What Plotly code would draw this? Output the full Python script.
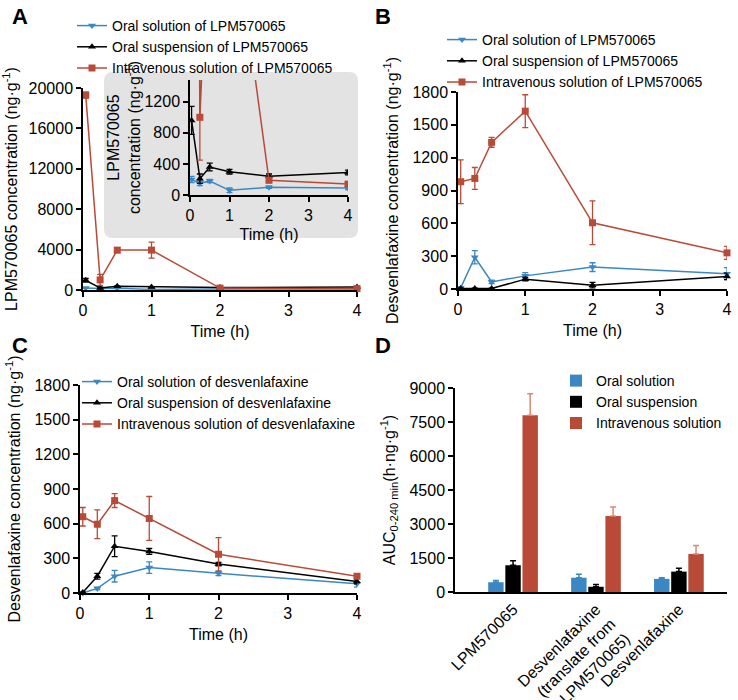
import plotly.graph_objects as go

W, H = 738, 700

BLUE = "#3b87c4"
BLACK = "#000000"
RED = "#b94a38"
FONT = "Arial, Liberation Sans, sans-serif"

# sampling times (h)
time_h = [0.04, 0.25, 0.5, 1, 2, 4]

# A: LPM570065 concentration
a_sol = [200, 150, 180, 60, 100, 90]
a_sol_err = [40, 30, 20, 30, 15, 20]
a_susp = [960, 210, 360, 300, 240, 290]
a_susp_err = [180, 60, 50, 30, 30, 30]
a_iv = [19300, 1000, 3950, 3950, 190, 140]
a_iv_err = [300, 550, 250, 800, 30, 20]

# B: desvenlafaxine after LPM570065
b_sol = [10, 290, 65, 120, 200, 140]
b_sol_err = [10, 60, 15, 30, 40, 55]
b_susp = [5, 5, 5, 90, 35, 115]
b_susp_err = [2, 2, 2, 15, 25, 30]
b_iv = [980, 1010, 1340, 1625, 605, 330]
b_iv_err = [200, 100, 45, 150, 200, 60]

# C: desvenlafaxine
c_sol = [0, 40, 145, 220, 170, 80]
c_sol_err = [2, 10, 50, 50, 20, 30]
c_susp = [5, 145, 405, 360, 250, 100]
c_susp_err = [2, 25, 90, 25, 15, 20]
c_iv = [660, 595, 800, 645, 335, 145]
c_iv_err = [80, 125, 60, 190, 145, 20]

# D: AUC 0-240 min
d_groups = ["LPM570065", "Desvenlafaxine<br>(translate from<br>LPM570065)", "Desvenlafaxine"]
d_sol = [430, 630, 580]
d_sol_err = [80, 150, 50]
d_susp = [1180, 230, 900]
d_susp_err = [200, 100, 150]
d_iv = [7800, 3350, 1680]
d_iv_err = [950, 400, 370]


def px_x(p):
    return p / W


def px_y(p):
    return 1 - p / H


def line(x, y, err, name, color, symbol, xa, ya, leg, show=True, clip=False):
    return go.Scatter(
        x=x, y=y, name=name, mode="lines+markers",
        line=dict(color=color, width=1.5),
        marker=dict(symbol=symbol, size=7, color=color),
        error_y=dict(type="data", array=err, color=color, thickness=1.3, width=3),
        xaxis=xa, yaxis=ya, legend=leg, showlegend=show, cliponaxis=clip,
    )


fig = go.Figure()

# panel A main
fig.add_trace(line(time_h, a_sol, a_sol_err, "Oral solution of LPM570065", BLUE, "triangle-down", "x", "y", "legend"))
fig.add_trace(line(time_h, a_susp, a_susp_err, "Oral suspension of LPM570065", BLACK, "triangle-up", "x", "y", "legend"))
fig.add_trace(line(time_h, a_iv, a_iv_err, "Intravenous solution of LPM570065", RED, "square", "x", "y", "legend"))
# panel A inset
fig.add_trace(line(time_h, a_sol, a_sol_err, "sol", BLUE, "triangle-down", "x2", "y2", "legend", False, True))
fig.add_trace(line(time_h, a_susp, a_susp_err, "susp", BLACK, "triangle-up", "x2", "y2", "legend", False, True))
fig.add_trace(line(time_h, a_iv, a_iv_err, "iv", RED, "square", "x2", "y2", "legend", False, True))
# panel B
fig.add_trace(line(time_h, b_sol, b_sol_err, "Oral solution of LPM570065", BLUE, "triangle-down", "x3", "y3", "legend2"))
fig.add_trace(line(time_h, b_susp, b_susp_err, "Oral suspension of LPM570065", BLACK, "triangle-up", "x3", "y3", "legend2"))
fig.add_trace(line(time_h, b_iv, b_iv_err, "Intravenous solution of LPM570065", RED, "square", "x3", "y3", "legend2"))
# panel C
fig.add_trace(line(time_h, c_sol, c_sol_err, "Oral solution of desvenlafaxine", BLUE, "triangle-down", "x4", "y4", "legend3"))
fig.add_trace(line(time_h, c_susp, c_susp_err, "Oral suspension of desvenlafaxine", BLACK, "triangle-up", "x4", "y4", "legend3"))
fig.add_trace(line(time_h, c_iv, c_iv_err, "Intravenous solution of desvenlafaxine", RED, "square", "x4", "y4", "legend3"))

# panel D
for vals, errs, name, col, ecol in [
    (d_sol, d_sol_err, "Oral solution", BLUE, BLUE),
    (d_susp, d_susp_err, "Oral suspension", BLACK, BLACK),
    (d_iv, d_iv_err, "Intravenous solution", RED, "#d9897a"),
]:
    fig.add_trace(go.Bar(
        x=d_groups, y=vals, name=name, marker=dict(color=col, line=dict(width=0)),
        error_y=dict(type="data", array=errs, arrayminus=[0] * len(errs), symmetric=False,
                     color=ecol, thickness=1.5, width=3),
        xaxis="x5", yaxis="y5", legend="legend4",
    ))

axis_style = dict(
    showline=True, linecolor="black", linewidth=1.5, ticks="outside", ticklen=5,
    tickwidth=1.5, tickcolor="black", showgrid=False, zeroline=False,
    tickfont=dict(size=16, color="black"), automargin=False, tickformat="d",
)
ttl = dict(size=16, color="black")
leg_style = dict(xanchor="left", yanchor="top", font=dict(size=14),
                 bgcolor="rgba(0,0,0,0)", itemwidth=30)

fig.update_layout(
    width=W, height=H, margin=dict(l=0, r=0, t=0, b=0),
    paper_bgcolor="white", plot_bgcolor="rgba(0,0,0,0)",
    font=dict(family=FONT, color="black"),
    barmode="group", bargap=0.38, bargroupgap=0.1,
    # A
    xaxis=dict(axis_style, domain=[px_x(83), px_x(357)], range=[0, 4], tickvals=[0, 1, 2, 3, 4],
               anchor="y", title=dict(text="Time (h)", font=ttl, standoff=8)),
    yaxis=dict(axis_style, domain=[px_y(290), px_y(88)], range=[0, 20000],
               tickvals=[0, 4000, 8000, 12000, 16000, 20000], anchor="x",
               title=dict(text="LPM570065 concentration (ng·g<sup>-1</sup>)", font=ttl, standoff=10)),
    # A inset
    xaxis2=dict(axis_style, domain=[px_x(190), px_x(348)], range=[0, 4], tickvals=[0, 1, 2, 3, 4],
                anchor="y2", title=dict(text="Time (h)", font=ttl, standoff=6)),
    yaxis2=dict(axis_style, domain=[px_y(195), px_y(80)], range=[0, 1480],
                tickvals=[0, 400, 800, 1200], anchor="x2",
                title=dict(text="LPM570065<br>concentration (ng·g<sup>-1</sup>)", font=ttl, standoff=0)),
    # B
    xaxis3=dict(axis_style, domain=[px_x(458), px_x(727)], range=[0, 4], tickvals=[0, 1, 2, 3, 4],
                anchor="y3", title=dict(text="Time (h)", font=ttl, standoff=8)),
    yaxis3=dict(axis_style, domain=[px_y(289), px_y(92)], range=[0, 1800],
                tickvals=[0, 300, 600, 900, 1200, 1500, 1800], anchor="x3",
                title=dict(text="Desvenlafaxine concentration (ng·g<sup>-1</sup>)", font=ttl, standoff=10)),
    # C
    xaxis4=dict(axis_style, domain=[px_x(80), px_x(357)], range=[0, 4], tickvals=[0, 1, 2, 3, 4],
                anchor="y4", title=dict(text="Time (h)", font=ttl, standoff=8)),
    yaxis4=dict(axis_style, domain=[px_y(593), px_y(385)], range=[0, 1800],
                tickvals=[0, 300, 600, 900, 1200, 1500, 1800], anchor="x4",
                title=dict(text="Desvenlafaxine concentration (ng·g<sup>-1</sup>)", font=ttl, standoff=10)),
    # D
    xaxis5=dict(axis_style, domain=[px_x(455), px_x(727)], range=[-0.7, 2.58], ticks="",
                tickangle=-45, anchor="y5"),
    yaxis5=dict(axis_style, domain=[px_y(592), px_y(388)], range=[0, 9000],
                tickvals=[0, 1500, 3000, 4500, 6000, 7500, 9000], anchor="x5",
                title=dict(text="AUC<sub>0-240 min</sub>(h·ng·g<sup>-1</sup>)", font=ttl, standoff=10)),
    legend=dict(leg_style, x=px_x(72), y=px_y(10)),
    legend2=dict(leg_style, x=px_x(442), y=px_y(24)),
    legend3=dict(leg_style, x=px_x(77), y=px_y(366)),
    legend4=dict(leg_style, x=px_x(556), y=px_y(365)),
)

# grey rounded box behind the inset
x0, x1, y0, y1, r = 104, 358, 72, 238, 9
pts = [
    ("M", x0 + r, y0), ("L", x1 - r, y0), ("Q", x1, y0, x1, y0 + r), ("L", x1, y1 - r),
    ("Q", x1, y1, x1 - r, y1), ("L", x0 + r, y1), ("Q", x0, y1, x0, y1 - r),
    ("L", x0, y0 + r), ("Q", x0, y0, x0 + r, y0),
]
path = ""
for p in pts:
    cmd, coords = p[0], p[1:]
    parts = [f"{px_x(coords[i]):.5f},{px_y(coords[i + 1]):.5f}" for i in range(0, len(coords), 2)]
    path += cmd + " ".join(parts) + " "
fig.add_shape(type="path", path=path + "Z", xref="paper", yref="paper",
              fillcolor="#e3e3e3", line=dict(width=0), layer="below")

# panel letters
for letter, lx, ly in [("A", 10, 17), ("B", 373, 17), ("C", 10, 345), ("D", 373, 345)]:
    fig.add_annotation(text=f"<b>{letter}</b>", x=px_x(lx), y=px_y(ly), xref="paper", yref="paper",
                       xanchor="left", yanchor="middle", showarrow=False,
                       font=dict(size=22, color="black", family=FONT))

# page body has a default margin; remove it so the figure sits at the window corner
fig.write_html("out.html", config={"displayModeBar": False},
               post_script="document.body.style.margin='0';")
